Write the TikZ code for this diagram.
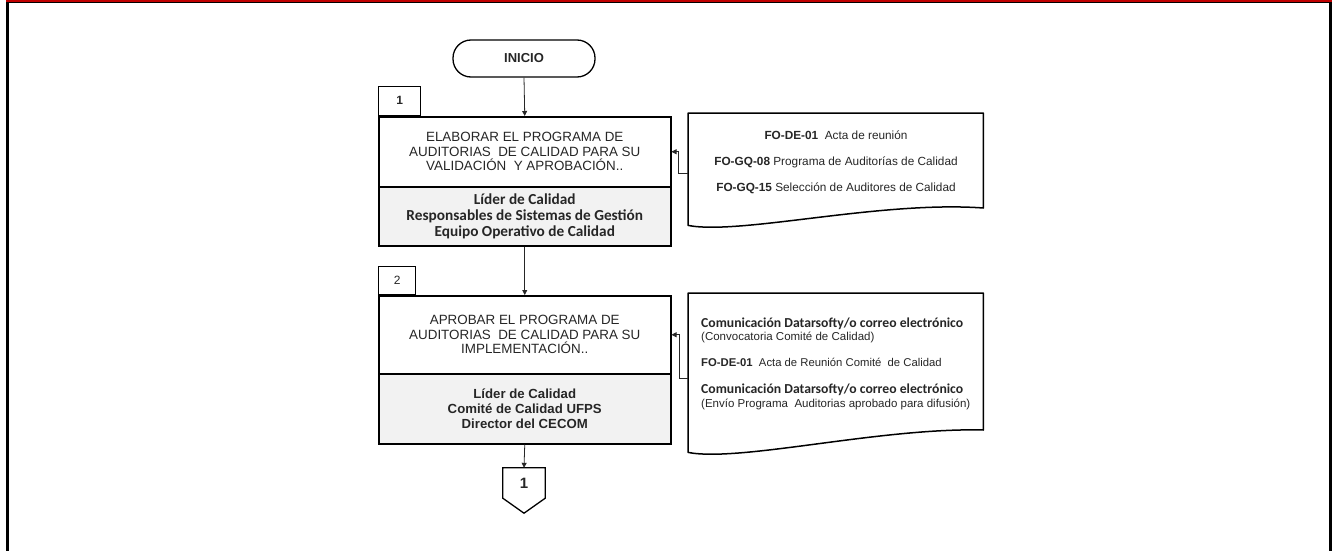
\documentclass[tikz,border=0pt]{standalone}
\usepackage{fontspec}
\setmainfont{Liberation Sans}
\newfontfamily\calfont{Carlito}
\usetikzlibrary{arrows.meta,calc}
\definecolor{greyfill}{HTML}{F2F2F2}
\definecolor{framered}{HTML}{C00000}
\definecolor{txt}{HTML}{262626}
\begin{document}
\begin{tikzpicture}[x=1pt,y=-1pt,
  box/.style={draw=black,line width=1.5pt,minimum width=292pt,inner sep=0pt,anchor=north west,align=center,text=txt},
  task/.style={box,font=\fontsize{13.4}{14.5}\selectfont},
  role/.style={box,fill=greyfill},
  tab/.style={draw=black,line width=1.3pt,inner sep=0pt,anchor=south west,minimum height=29pt,text=txt},
  doc/.style={draw=black,line width=1.5pt,line join=round},
  arr/.style={draw=black!85,line width=0.8pt,-{Triangle[length=5pt,width=5pt]}},
  dtext/.style={anchor=base west,inner sep=0pt,text=txt},
]
\useasboundingbox (0,0) rectangle (1332,551);
% frame
\fill[black] (6,0) rectangle (9,551);
\fill[black] (1329,0) rectangle (1332,551);
\fill[framered] (6,0) rectangle (1332,2.2);
\draw[black,line width=0.8pt] (6,2.8) -- (1332,2.8);

% start
\node[draw=black,line width=1.3pt,minimum width=142pt,minimum height=37pt,rounded corners=18pt,
      font=\bfseries\fontsize{13}{13}\selectfont,text=txt] (ini) at (524,58.5) {INICIO};

% step 1
\node[tab,minimum width=42pt,font=\bfseries\fontsize{12}{12}\selectfont] (t1) at (378,116) {1};
\node[task,minimum height=70pt] (b1) at (378,116)
  {ELABORAR EL PROGRAMA DE\\AUDITORIAS \ DE CALIDAD PARA SU\\VALIDACIÓN \ Y APROBACIÓN..};
\node[role,minimum height=59pt,font=\calfont\bfseries\fontsize{15.3}{16}\selectfont] (r1) at (378,186)
  {Líder de Calidad\\Responsables de Sistemas de Gestión\\Equipo Operativo de Calidad};

% step 2
\node[tab,minimum width=37pt,minimum height=28pt,font=\fontsize{12}{12}\selectfont] (t2) at (378,295) {2};
\node[task,minimum height=78pt] (b2) at (378,295)
  {APROBAR EL PROGRAMA DE\\AUDITORIAS \ DE CALIDAD PARA SU\\IMPLEMENTACIÓN..};
\node[role,minimum height=70pt,font=\bfseries\fontsize{13.2}{15}\selectfont] (r2) at (378,373)
  {Líder de Calidad\\Comité de Calidad UFPS\\Director del CECOM};

% off-page connector
\node[minimum width=42pt,minimum height=30pt,inner sep=0pt,font=\bfseries\fontsize{15}{15}\selectfont,text=txt] (off) at (524,483) {1};
\draw[black,line width=1.3pt,line join=miter] (off.north west) -- (off.north east) -- (off.south east)
  -- ($(off.south)+(0,15)$) -- (off.south west) -- cycle;

% document 1
\node[minimum width=295pt,minimum height=112pt,inner sep=0pt,anchor=north west] (d1) at (688,113) {};
\draw[doc] (d1.north west) -- (d1.north east) -- ($(d1.north east)+(0,95)$)
  .. controls ($(d1.south west)+(192,-25)$) and ($(d1.south west)+(52,10)$) .. (d1.south west) -- cycle;
\node[align=center,inner sep=0pt,text=txt,font=\fontsize{11.8}{26}\selectfont] (d1t) at (836,162)
  {\textbf{FO-DE-01}\ \ Acta de reunión\\\textbf{FO-GQ-08} Programa de Auditorías de Calidad\\\textbf{FO-GQ-15} Selección de Auditores de Calidad};

% document 2
\node[minimum width=295pt,minimum height=159pt,inner sep=0pt,anchor=north west] (d2) at (688,293) {};
\draw[doc] (d2.north west) -- (d2.north east) -- ($(d2.north east)+(0,137)$)
  .. controls ($(d2.south west)+(192,-25)$) and ($(d2.south west)+(52,10)$) .. (d2.south west) -- cycle;
\node[dtext,font=\calfont\bfseries\fontsize{13.7}{13}\selectfont] (d2a) at (701,327) {Comunicación Datarsofty/o correo electrónico};
\node[dtext,font=\fontsize{11.5}{11}\selectfont] (d2b) at (701,340) {(Convocatoria Comité de Calidad)};
\node[dtext,font=\fontsize{11.3}{11}\selectfont] (d2c) at (701,366) {\textbf{FO-DE-01}\ \ Acta de Reunión Comité \ de Calidad};
\node[dtext,font=\calfont\bfseries\fontsize{13.7}{13}\selectfont] (d2d) at (701,393) {Comunicación Datarsofty/o correo electrónico};
\node[dtext,font=\fontsize{11.5}{11}\selectfont] (d2e) at (701,407) {(Envío Programa \ Auditorias aprobado para difusión)};

% connectors
\draw[arr] (ini.south) -- (b1.north);
\draw[arr] (r1.south) -- (b2.north);
\draw[arr] (r2.south) -- (off.north);
\draw[arr] ($(d1.north west)+(0,60)$) -- ++(-10,0) |- (b1.east);
\draw[arr] ($(d2.north west)+(0,85)$) -- ++(-9,0) |- (b2.east);
\end{tikzpicture}
\end{document}
